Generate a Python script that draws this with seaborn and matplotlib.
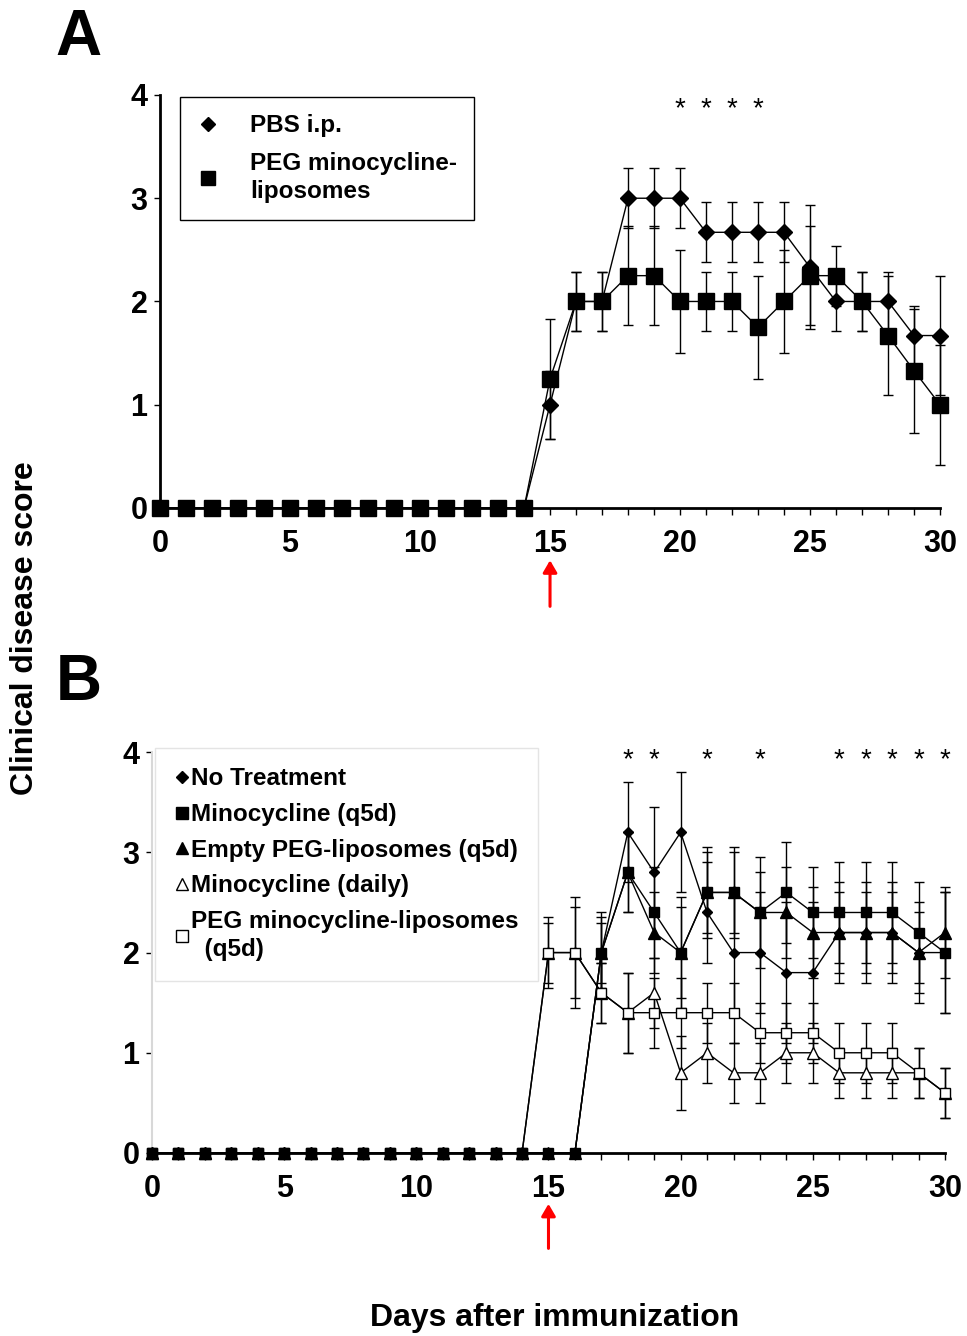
import matplotlib
matplotlib.use("Agg")
import matplotlib.pyplot as plt
from matplotlib.lines import Line2D
from matplotlib.ticker import MultipleLocator
import seaborn as sns

# Days after immunization
days = [0, 1, 2, 3, 4, 5, 6, 7, 8, 9, 10, 11, 12, 13, 14, 15,
        16, 17, 18, 19, 20, 21, 22, 23, 24, 25, 26, 27, 28, 29, 30]

# Panel A: mean score (days 0-30) and error (days 15-30)
pbs = [0, 0, 0, 0, 0, 0, 0, 0, 0, 0, 0, 0, 0, 0, 0,
       1.0, 2.0, 2.0, 3.0, 3.0, 3.0, 2.67, 2.67, 2.67, 2.67, 2.33, 2.0, 2.0, 2.0, 1.67, 1.67]
pbs_err = [0.33, 0.29, 0.29, 0.29, 0.29, 0.29, 0.29, 0.29, 0.29, 0.29, 0.6, 0.29, 0.29, 0.29, 0.29, 0.58]
peg_a = [0, 0, 0, 0, 0, 0, 0, 0, 0, 0, 0, 0, 0, 0, 0,
         1.25, 2.0, 2.0, 2.25, 2.25, 2.0, 2.0, 2.0, 1.75, 2.0, 2.25, 2.25, 2.0, 1.67, 1.33, 1.0]
peg_a_err = [0.58, 0.29, 0.29, 0.48, 0.48, 0.5, 0.29, 0.29, 0.5, 0.5, 0.48, 0.29, 0.29, 0.58, 0.6, 0.58]
stars_a = [20, 21, 22, 23]

# Panel B: filled series start at day 17, open series at day 15
no_treat = [0, 0, 0, 0, 0, 0, 0, 0, 0, 0, 0, 0, 0, 0, 0, 0, 0,
            2.0, 3.2, 2.8, 3.2, 2.4, 2.0, 2.0, 1.8, 1.8, 2.2, 2.2, 2.2, 2.0, 2.0]
no_treat_err = [0.35, 0.5, 0.65, 0.6, 0.5, 0.6, 0.6, 0.7, 0.7, 0.5, 0.5, 0.5, 0.5, 0.6]
mino_q5d = [0, 0, 0, 0, 0, 0, 0, 0, 0, 0, 0, 0, 0, 0, 0, 0, 0,
            2.0, 2.8, 2.4, 2.0, 2.6, 2.6, 2.4, 2.6, 2.4, 2.4, 2.4, 2.4, 2.2, 2.0]
mino_q5d_err = [0.4, 0.4, 0.45, 0.55, 0.45, 0.45, 0.55, 0.5, 0.45, 0.5, 0.5, 0.5, 0.5, 0.6]
empty_peg = [0, 0, 0, 0, 0, 0, 0, 0, 0, 0, 0, 0, 0, 0, 0, 0, 0,
             2.0, 2.8, 2.2, 2.0, 2.6, 2.6, 2.4, 2.4, 2.2, 2.2, 2.2, 2.2, 2.0, 2.2]
empty_peg_err = [0.3, 0.4, 0.4, 0.45, 0.4, 0.4, 0.4, 0.45, 0.45, 0.4, 0.4, 0.4, 0.4, 0.45]
mino_daily = [0, 0, 0, 0, 0, 0, 0, 0, 0, 0, 0, 0, 0, 0, 0,
              2.0, 2.0, 1.6, 1.4, 1.6, 0.8, 1.0, 0.8, 0.8, 1.0, 1.0, 0.8, 0.8, 0.8, 0.8, 0.6]
mino_daily_err = [0.3, 0.45, 0.3, 0.4, 0.35, 0.37, 0.3, 0.3, 0.3, 0.3, 0.3, 0.25, 0.25, 0.25, 0.25, 0.25]
peg_lipo = [0, 0, 0, 0, 0, 0, 0, 0, 0, 0, 0, 0, 0, 0, 0,
            2.0, 2.0, 1.6, 1.4, 1.4, 1.4, 1.4, 1.4, 1.2, 1.2, 1.2, 1.0, 1.0, 1.0, 0.8, 0.6]
peg_lipo_err = [0.35, 0.55, 0.3, 0.4, 0.35, 0.35, 0.3, 0.3, 0.3, 0.3, 0.3, 0.3, 0.3, 0.3, 0.25, 0.25]
stars_b = [18, 19, 21, 23, 26, 27, 28, 29, 30]

sns.set_theme(style="white")
plt.rcParams["font.family"] = ["Liberation Sans", "DejaVu Sans"]
plt.rcParams["font.weight"] = "bold"
for key in ["text.color", "axes.labelcolor", "xtick.color", "ytick.color"]:
    plt.rcParams[key] = "black"

fig = plt.figure(figsize=(9.67, 13.36), dpi=100)
axA = fig.add_axes([0.1655, 0.6198, 0.8066, 0.3091])
axB = fig.add_axes([0.1572, 0.137, 0.820, 0.300])


def draw_series(ax, y, err, start, marker, face, ms, z):
    sns.lineplot(x=days, y=y, ax=ax, color="black", linewidth=1, errorbar=None,
                 marker=marker, markersize=ms, markerfacecolor=face,
                 markeredgecolor="black", markeredgewidth=1, clip_on=False, zorder=z)
    ax.errorbar(days[start:], y[start:], yerr=err, fmt="none", ecolor="black",
                elinewidth=1, capsize=3.5, capthick=1, zorder=2, clip_on=False)


# Panel A
draw_series(axA, pbs, pbs_err, 15, "D", "black", 8, 3)
draw_series(axA, peg_a, peg_a_err, 15, "s", "black", 11, 4)

# Panel B (open series underneath, filled squares on top at zero)
draw_series(axB, mino_daily, mino_daily_err, 15, "^", "white", 8, 3)
draw_series(axB, peg_lipo, peg_lipo_err, 15, "s", "white", 7.5, 3.1)
draw_series(axB, no_treat, no_treat_err, 17, "D", "black", 5.5, 3.2)
draw_series(axB, empty_peg, empty_peg_err, 17, "^", "black", 8, 3.3)
draw_series(axB, mino_q5d, mino_q5d_err, 17, "s", "black", 7.5, 3.4)

for ax in [axA, axB]:
    ax.set_xlim(0, 30)
    ax.set_ylim(0, 4)
    ax.xaxis.set_major_locator(MultipleLocator(5))
    ax.xaxis.set_minor_locator(MultipleLocator(1))
    ax.yaxis.set_major_locator(MultipleLocator(1))
    ax.tick_params(axis="x", which="both", direction="out", bottom=True, length=5,
                   width=1, color="black", labelsize=22, pad=10)
    ax.tick_params(axis="y", direction="out", left=True, length=4, width=1,
                   color="black", labelsize=22, pad=5)
    for lab in ax.get_xticklabels() + ax.get_yticklabels():
        lab.set_fontweight("bold")
    ax.spines["top"].set_visible(False)
    ax.spines["right"].set_visible(False)
    ax.spines["bottom"].set_color("black")
    ax.spines["bottom"].set_linewidth(2)
    ax.set_xlabel("")
    ax.set_ylabel("")
    # red arrow marking the start of treatment
    ax.annotate("", xy=(15, -0.12), xycoords=("data", "axes fraction"),
                xytext=(15, -0.245), textcoords=("data", "axes fraction"),
                arrowprops=dict(arrowstyle="-|>,head_width=0.35,head_length=0.6",
                                color="red", lw=2.2))

for d in stars_a:
    axA.text(d, 3.86, "*", ha="center", va="center", fontsize=20,
             fontweight="normal", clip_on=False)
for d in stars_b:
    axB.text(d, 3.92, "*", ha="center", va="center", fontsize=20,
             fontweight="normal", clip_on=False)

axA.spines["left"].set_color("black")
axA.spines["left"].set_linewidth(2)
axB.spines["left"].set_color("#d8d8d8")
axB.spines["left"].set_linewidth(1.5)

# Legends
handles_a = [Line2D([], [], ls="none", marker="D", ms=7, color="black"),
             Line2D([], [], ls="none", marker="s", ms=10, color="black")]
legA = axA.legend(handles_a, ["PBS i.p.", "PEG minocycline-\nliposomes"],
                  loc="upper left", bbox_to_anchor=(0.186, 0.9274),
                  bbox_transform=fig.transFigure, frameon=True, fancybox=False,
                  edgecolor="black", framealpha=1, prop={"size": 17.5, "weight": "bold"},
                  handlelength=0.9, handletextpad=1.3, borderpad=0.7, labelspacing=0.6,
                  borderaxespad=0)
legA.get_frame().set_linewidth(1)
for t in legA.get_texts():
    t.set_linespacing(1.3)

handles_b = [Line2D([], [], ls="none", marker="D", ms=6, color="black"),
             Line2D([], [], ls="none", marker="s", ms=8, color="black"),
             Line2D([], [], ls="none", marker="^", ms=9, color="black"),
             Line2D([], [], ls="none", marker="^", ms=9, mfc="white", mec="black"),
             Line2D([], [], ls="none", marker="s", ms=8, mfc="white", mec="black")]
labels_b = ["No Treatment", "Minocycline (q5d)", "Empty PEG-liposomes (q5d)",
            "Minocycline (daily)", "PEG minocycline-liposomes\n  (q5d)"]
legB = axB.legend(handles_b, labels_b, loc="upper left",
                  bbox_to_anchor=(155 / 967, 1 - 748 / 1336),
                  bbox_transform=fig.transFigure, frameon=True, fancybox=False,
                  edgecolor="#e4e4e4", framealpha=1, prop={"size": 17.5, "weight": "bold"},
                  handlelength=0.6, handletextpad=0.1, borderpad=0.8, labelspacing=0.52,
                  borderaxespad=0)
for t in legB.get_texts():
    t.set_linespacing(1.3)

# Panel letters and shared axis labels
fig.text(0.081, 0.9716, "A", ha="center", va="center", fontsize=46, fontweight="bold")
fig.text(0.081, 0.4888, "B", ha="center", va="center", fontsize=46, fontweight="bold")
fig.text(0.026, 0.53, "Clinical disease score", rotation=90, ha="center",
         va="center", fontsize=23, fontweight="bold")
fig.text(0.574, 0.0135, "Days after immunization", ha="center", va="center",
         fontsize=23, fontweight="bold")

fig.savefig("out.png", dpi=100)
